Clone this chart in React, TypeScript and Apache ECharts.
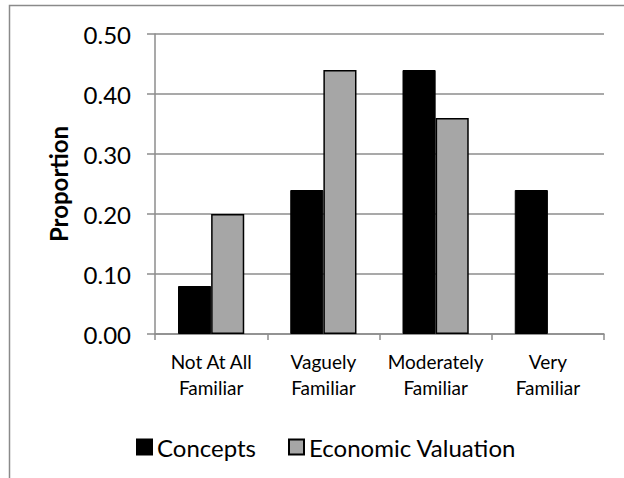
import React, { useEffect, useRef } from "react";
import * as echarts from "echarts";

const categories = ["Not At All\nFamiliar", "Vaguely\nFamiliar", "Moderately\nFamiliar", "Very\nFamiliar"];
const seriesNames = ["Concepts", "Economic Valuation"];
const conceptsValues = [0.08, 0.24, 0.44, 0.24];
const valuationValues = [0.2, 0.44, 0.36, 0];
const yTicks = { min: 0, max: 0.5, interval: 0.1 };

const FONT = "Lato, 'Open Sans', sans-serif";

// zero-height bars get no outline so they don't leave a stroke on the axis
const withOutline = (values: number[], width: number) =>
  values.map((v) => ({ value: v, itemStyle: { borderWidth: v === 0 ? 0 : width } }));

export default function App() {
  const ref = useRef<HTMLDivElement>(null);

  useEffect(() => {
    if (!ref.current) return;
    const chart = echarts.init(ref.current, null, { renderer: "svg" });
    chart.setOption({
      animation: false,
      backgroundColor: "#ffffff",
      textStyle: { fontFamily: FONT, color: "#000" },
      graphic: [
        {
          type: "rect",
          shape: { x: 9.5, y: 5.5, width: 700, height: 600 },
          style: { fill: "none", stroke: "#8a8a8a", lineWidth: 1.5 },
          silent: true,
          z: -1,
        },
      ],
      grid: { left: 155, top: 34, right: 20, bottom: 144, containLabel: false },
      legend: {
        left: 131,
        top: 430,
        itemWidth: 15,
        itemHeight: 15,
        itemGap: 32,
        icon: "rect",
        textStyle: { fontFamily: FONT, fontSize: 24, color: "#000" },
        data: seriesNames,
      },
      xAxis: {
        type: "category",
        data: categories,
        boundaryGap: true,
        axisLine: { lineStyle: { color: "#8c8c8c", width: 1.5 } },
        axisTick: { show: true, length: 6, lineStyle: { color: "#8c8c8c", width: 1.5 } },
        axisLabel: { interval: 0, fontFamily: FONT, fontSize: 19, color: "#000", lineHeight: 26, margin: 14 },
      },
      yAxis: {
        type: "value",
        min: yTicks.min,
        max: yTicks.max,
        interval: yTicks.interval,
        name: "Proportion",
        nameLocation: "middle",
        nameGap: 85,
        nameTextStyle: { fontFamily: FONT, fontSize: 24, fontWeight: "bold", color: "#000" },
        axisLine: { show: true, lineStyle: { color: "#8c8c8c", width: 1.5 } },
        axisTick: { show: true, length: 8, lineStyle: { color: "#8c8c8c", width: 1.5 } },
        splitLine: { lineStyle: { color: "#8c8c8c", width: 1.5 } },
        axisLabel: {
          fontFamily: FONT,
          fontSize: 24,
          color: "#000",
          margin: 24,
          formatter: (v: number) => v.toFixed(2),
        },
      },
      series: [
        {
          name: seriesNames[0],
          type: "bar",
          data: withOutline(conceptsValues, 1),
          barGap: "0%",
          barCategoryGap: "41%",
          itemStyle: { color: "#000000", borderColor: "#000000", borderWidth: 1 },
        },
        {
          name: seriesNames[1],
          type: "bar",
          data: withOutline(valuationValues, 1.5),
          barGap: "0%",
          barCategoryGap: "41%",
          itemStyle: { color: "#a6a6a6", borderColor: "#000000", borderWidth: 1.5 },
        },
      ],
    });
    return () => chart.dispose();
  }, []);

  return (
    <div
      ref={ref}
      style={{ position: "absolute", left: 0, top: 0, width: 624, height: 478 }}
    />
  );
}
